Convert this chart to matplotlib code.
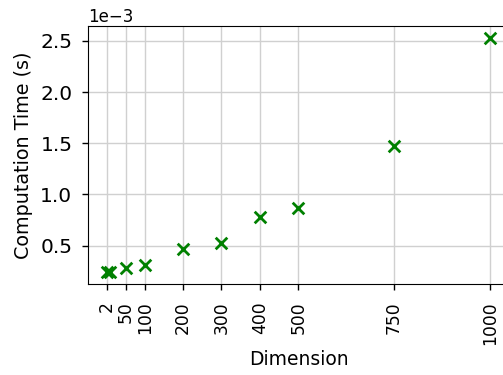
import matplotlib
matplotlib.use("Agg")
import matplotlib.pyplot as plt

dims = [2, 10, 50, 100, 200, 300, 400, 500, 750, 1000]
times = [0.241e-3, 0.244e-3, 0.281e-3, 0.315e-3, 0.468e-3, 0.526e-3,
         0.777e-3, 0.863e-3, 1.473e-3, 2.533e-3]
xtick_vals = [2, 50, 100, 200, 300, 400, 500, 750, 1000]

fig = plt.figure(figsize=(5.03, 3.75), dpi=100)
ax = fig.add_axes([0.175, 0.243, 0.837, 0.688])
ax.scatter(dims, times, marker='x', color='green', s=70, linewidths=2, zorder=3)
ax.set_xticks(xtick_vals)
ax.set_xticklabels([str(v) for v in xtick_vals], rotation=90, fontsize=12.3)
ax.tick_params(axis='both', length=4.3, width=1.0)
ax.tick_params(axis='x', pad=8)
ax.tick_params(axis='y', labelsize=14.5, pad=7)
ax.ticklabel_format(axis='y', style='sci', scilimits=(-3, -3))
ax.grid(True, color='#d0d0d0', linewidth=1)
ax.set_axisbelow(True)
ax.set_xlabel('Dimension', fontsize=13.5, labelpad=4)
ax.set_ylabel('Computation Time (s)', fontsize=13.8, labelpad=5.5)
ax.yaxis.get_offset_text().set_fontsize(12)
fig.savefig('out.png', dpi=100)
